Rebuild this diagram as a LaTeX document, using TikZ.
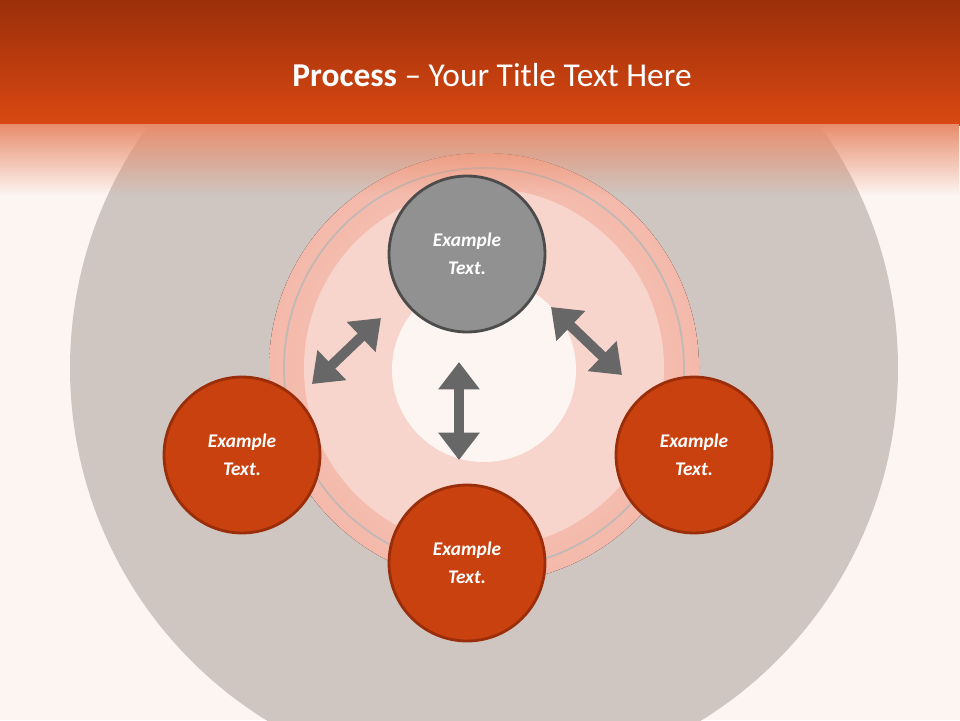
\documentclass[tikz,border=0pt]{standalone}
\usepackage{fontspec}
\setmainfont{Carlito}
\usetikzlibrary{arrows.meta,fadings}
\definecolor{bg}{HTML}{FDF5F2}
\definecolor{bigc}{HTML}{CFC6C1}
\definecolor{hdtop}{HTML}{9B2F0A}
\definecolor{hdbot}{HTML}{DA4812}
\definecolor{ora}{HTML}{C9410F}
\definecolor{orab}{HTML}{9A2E0A}
\definecolor{pinkc}{HTML}{F4B9AA}
\definecolor{arr}{HTML}{676767}
\tikzfading[name=hfade, top color=transparent!0, bottom color=transparent!100]
\tikzset{
 proc/.style={circle,minimum size=3.12cm,line width=1.6pt,draw=orab,fill=ora,text=white,
   font=\bfseries\itshape\fontsize{11}{16}\selectfont,align=center},
 dbl/.style={arr,line width=0.2cm,{Triangle[width=0.8cm,length=0.55cm]}-{Triangle[width=0.8cm,length=0.55cm]}}
}
\begin{document}
\begin{tikzpicture}[x=0.02cm,y=-0.02cm]
\fill[bg] (0,0) rectangle (960,720);
\useasboundingbox (0,0) rectangle (960,720);
\begin{scope}
\clip (0,0) rectangle (960,720);
\fill[bigc] (484,368) circle (414);
\fill[inner color=pinkc!70!white,outer color=pinkc] (484,368) circle (215);
\fill[pinkc!60!white] (484,368) circle (180);
\draw[bigc!80!gray,line width=1pt] (484,368) circle (200);
\fill[bg] (484,370) circle (92);
\fill[top color=hdtop,bottom color=hdbot] (0,0) rectangle (960,125);
\fill[hdbot!60!bg,path fading=hfade] (0,124) rectangle (960,195);
\end{scope}
\node[text=white,font=\fontsize{19}{22}\selectfont] (title) at (492,75) {\textbf{Process} – Your Title Text Here};
\node[proc,fill=gray!80!white!95!black,draw=gray!60!black] (top) at (467,254) {Example\\Text.};
\node[proc] (left) at (242,455) {Example\\Text.};
\node[proc] (right) at (694,455) {Example\\Text.};
\node[proc] (bot) at (467,563) {Example\\Text.};
\coordinate (a1) at (312,384); \coordinate (a2) at (381,318);
\coordinate (b1) at (551,307); \coordinate (b2) at (622,375);
\coordinate (c1) at (459,362); \coordinate (c2) at (459,460);
\draw[dbl] (a1) -- (a2);
\draw[dbl] (b1) -- (b2);
\draw[dbl] (c1) -- (c2);
\end{tikzpicture}
\end{document}
